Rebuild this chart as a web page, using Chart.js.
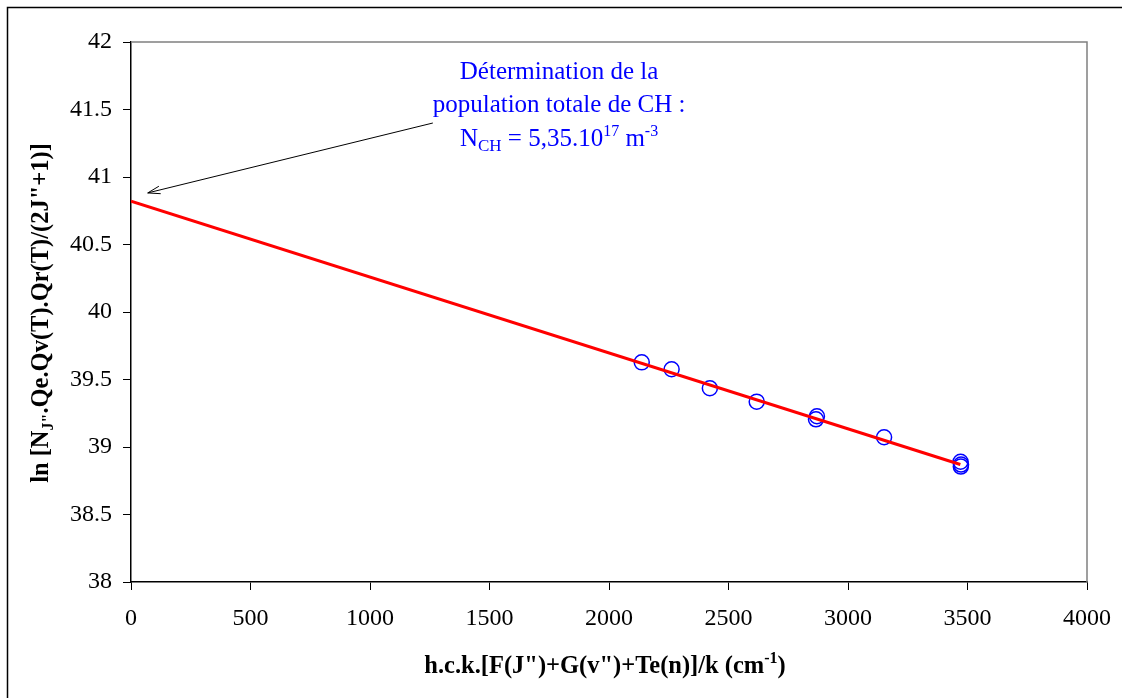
<!DOCTYPE html>
<html>
<head>
<meta charset="utf-8">
<script src="https://cdn.jsdelivr.net/npm/chart.js@4.4.0/dist/chart.umd.min.js"></script>
<style>
  html, body { margin: 0; padding: 0; background: #fff; }
  #wrap { width: 1122px; height: 698px; }
</style>
</head>
<body>
<div id="wrap"><canvas id="myChart" width="1122" height="698"></canvas></div>
<script>
// measured points (energy in cm-1, ln of population term)
var energy = [2137, 2262, 2422, 2618, 2866, 2870, 3151, 3471, 3473, 3472];
var lnPop  = [39.627, 39.576, 39.435, 39.336, 39.205, 39.228, 39.072, 38.891, 38.870, 38.855];
// linear fit line (end points)
var fitX = [0, 3470];
var fitY = [40.82, 38.87];
// axes
var xTicks = [0, 500, 1000, 1500, 2000, 2500, 3000, 3500, 4000];
var yTicks = [38, 38.5, 39, 39.5, 40, 40.5, 41, 41.5, 42];
// annotation
var noteLines = ["Détermination de la", "population totale de CH :"];
var noteAt = [1791, 41.726];
var arrowFrom = [1263, 41.40];
var arrowTo = [70, 40.882];

var serif = "'Liberation Serif', 'Times New Roman', serif";

var pts = [];
for (var i = 0; i < energy.length; i++) pts.push({x: energy[i], y: lnPop[i]});
var fit = [];
for (var j = 0; j < fitX.length; j++) fit.push({x: fitX[j], y: fitY[j]});

// runs of text: [text, size, dy, bold]
function runsWidth(ctx, runs) {
  var w = 0;
  runs.forEach(function(r) {
    ctx.font = (r[3] ? "bold " : "") + r[1] + "px " + serif;
    w += ctx.measureText(r[0]).width;
  });
  return w;
}
function drawRuns(ctx, runs, x, y) {
  runs.forEach(function(r) {
    ctx.font = (r[3] ? "bold " : "") + r[1] + "px " + serif;
    ctx.fillText(r[0], x, y + r[2]);
    x += ctx.measureText(r[0]).width;
  });
}

var decor = {
  id: "decor",
  beforeDraw: function(chart) {
    var ctx = chart.ctx;
    ctx.save();
    ctx.strokeStyle = "#000";
    ctx.lineWidth = 1.5;
    ctx.beginPath();
    ctx.moveTo(7.5, 720);
    ctx.lineTo(7.5, 7.5);
    ctx.lineTo(1130, 7.5);
    ctx.stroke();
    ctx.restore();
  },
  afterDatasetsDraw: function(chart) {
    var ctx = chart.ctx, a = chart.chartArea;
    var xs = chart.scales.x, ys = chart.scales.y;
    ctx.save();
    // grey top/right frame
    ctx.strokeStyle = "#808080";
    ctx.lineWidth = 1.5;
    ctx.beginPath();
    ctx.moveTo(a.left, a.top);
    ctx.lineTo(a.right, a.top);
    ctx.lineTo(a.right, a.bottom);
    ctx.stroke();

    // arrow
    var x1 = xs.getPixelForValue(arrowFrom[0]), y1 = ys.getPixelForValue(arrowFrom[1]);
    var x2 = xs.getPixelForValue(arrowTo[0]), y2 = ys.getPixelForValue(arrowTo[1]);
    ctx.strokeStyle = "#000";
    ctx.lineWidth = 1;
    ctx.beginPath();
    ctx.moveTo(x1, y1);
    ctx.lineTo(x2, y2);
    var ang = Math.atan2(y2 - y1, x2 - x1);
    ctx.moveTo(x2 - 13 * Math.cos(ang - 0.3), y2 - 13 * Math.sin(ang - 0.3));
    ctx.lineTo(x2, y2);
    ctx.lineTo(x2 - 13 * Math.cos(ang + 0.3), y2 - 13 * Math.sin(ang + 0.3));
    ctx.stroke();

    // annotation text
    var cx = xs.getPixelForValue(noteAt[0]), by = ys.getPixelForValue(noteAt[1]);
    ctx.fillStyle = "#0000ff";
    ctx.textBaseline = "alphabetic";
    ctx.textAlign = "left";
    var lines = [
      [[noteLines[0], 25, 0]],
      [[noteLines[1], 25, 0]],
      [["N", 25, 0], ["CH", 17, 5], [" = 5,35.10", 25, 0], ["17", 16, -10], [" m", 25, 0], ["-3", 16, -10]]
    ];
    lines.forEach(function(runs, k) {
      var w = runsWidth(ctx, runs);
      drawRuns(ctx, runs, cx - w / 2, by + k * 33.5);
    });

    // axis titles
    ctx.fillStyle = "#000";
    var xt = [["h.c.k.[F(J\")+G(v\")+Te(n)]/k (cm", 24.5, 0, true], ["-1", 16, -10, true], [")", 24.5, 0, true]];
    var w = runsWidth(ctx, xt);
    drawRuns(ctx, xt, 605 - w / 2, 673);

    var yt = [["ln [N", 24.5, 0, true], ["J\"", 16, 5, true], [".Qe.Qv(T).Qr(T)/(2J\"+1)]", 24.5, 0, true]];
    var wy = runsWidth(ctx, yt);
    ctx.translate(48, 313);
    ctx.rotate(-Math.PI / 2);
    drawRuns(ctx, yt, -wy / 2, 0);
    ctx.restore();
  }
};

function plain(v) { return String(v); }

var ctx = document.getElementById("myChart").getContext("2d");
var chart = new Chart(ctx, {
  type: "scatter",
  data: {
    datasets: [
      {
        type: "line",
        label: "fit",
        data: fit,
        borderColor: "#ff0000",
        borderWidth: 3,
        pointRadius: 0,
        fill: false,
        tension: 0
      },
      {
        label: "points",
        data: pts,
        borderColor: "#0000ff",
        backgroundColor: "rgba(0,0,0,0)",
        borderWidth: 1.5,
        pointRadius: 7.5
      }
    ]
  },
  options: {
    responsive: false,
    animation: false,
    layout: { padding: { top: 42, right: 35, left: 0, bottom: 0 } },
    plugins: { legend: { display: false }, tooltip: { enabled: false } },
    scales: {
      x: {
        type: "linear",
        min: 0, max: 4000,
        afterFit: function(s) { s.height = 116; s.paddingLeft = 0; s.paddingRight = 0; },
        afterBuildTicks: function(s) { s.ticks = xTicks.map(function(v) { return {value: v}; }); },
        grid: { display: true, drawOnChartArea: false, drawTicks: true, tickLength: 8, color: "#000", lineWidth: 1 },
        border: { display: true, color: "#000", width: 1.5 },
        ticks: { color: "#000", font: { family: serif, size: 24 }, padding: 14, maxRotation: 0, callback: plain }
      },
      y: {
        type: "linear",
        min: 38, max: 42,
        afterFit: function(s) { s.width = 131; s.paddingTop = 0; s.paddingBottom = 0; },
        afterBuildTicks: function(s) { s.ticks = yTicks.map(function(v) { return {value: v}; }); },
        grid: { display: true, drawOnChartArea: false, drawTicks: true, tickLength: 8, color: "#000", lineWidth: 1 },
        border: { display: true, color: "#000", width: 1.5 },
        ticks: { color: "#000", font: { family: serif, size: 24 }, padding: 11, callback: plain }
      }
    }
  },
  plugins: [decor]
});
</script>
</body>
</html>
